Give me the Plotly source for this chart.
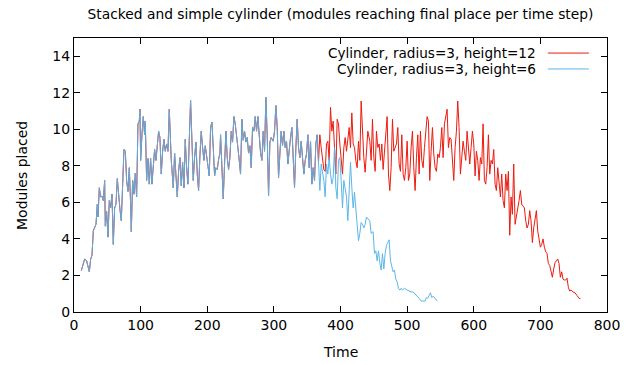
import plotly.graph_objects as go

# Shared part of both runs (identical time steps)
t_common = [11, 14, 16, 19, 21, 23, 25, 27, 29, 31, 33, 35, 36, 38, 40, 42, 44, 46, 47, 49,
            51, 53, 55, 57, 59, 61, 63, 65, 67, 69, 71, 73, 75, 77, 79, 81, 83, 85, 86, 88,
            90, 92, 94, 96, 98, 99, 100, 102, 104, 106, 107, 109, 111, 113, 115, 117, 119,
            121, 123, 125, 127, 129, 131, 133, 135, 137, 139, 141, 143,
            146, 149, 151, 153, 155, 157, 159, 161, 163, 165, 167, 169, 171, 173, 175, 177,
            179, 181, 183, 185, 187, 189, 191, 193, 195, 197, 199, 201, 203, 205, 207, 209,
            211, 213, 215, 217, 219, 220, 222, 224, 226, 228, 230, 232, 234, 236, 238, 240,
            242, 244, 246, 248, 250, 252, 254, 256, 258, 260, 262, 264, 266, 268, 270, 272,
            274, 276, 278, 280, 282, 284, 286, 288, 290, 292,
            294, 296, 299, 301, 303, 305, 307, 309, 311, 313, 315, 317, 319, 321, 323, 325,
            327, 329, 331, 333, 335, 337, 339, 341, 343, 345, 347, 349, 351, 353, 355, 357,
            359, 361, 363, 365, 367]
v_common = [2.27, 2.7, 2.9, 2.8, 2.45, 2.2, 2.9, 3.1, 4.45, 4.6, 4.8, 5.9, 5.2, 6.8, 6.3, 6.35,
            6.1, 7.2, 4.7, 5.5, 4.1, 6.1, 5.7, 6.45, 3.7, 5.7, 5.9, 7.3, 6.3, 5.6, 5.0, 6.8,
            8.9, 8.8, 7.2, 6.6, 7.9, 5.9, 4.4, 7.2, 6.45, 7.6, 6.3, 10.3, 10.45, 11.1, 8.3,
            9.7, 10.7, 9.7, 10.45, 7.2, 8.4, 7.0, 8.4, 7.0, 8.1, 8.9, 8.3, 9.3, 9.9, 9.55,
            7.55, 8.8, 9.45, 8.8, 9.2, 8.8, 11.1,
            8.3, 6.8, 8.7, 7.2, 6.3, 7.7, 8.45, 6.9, 8.2, 6.8, 9.45, 7.9, 7.0, 9.4, 11.6, 9.4,
            7.2, 8.45, 9.3, 7.55, 6.65, 8.55, 9.9, 9.0, 8.3, 9.1, 8.45, 8.1, 7.45, 10.1, 10.4,
            9.0, 7.45, 7.9, 7.8, 8.35, 8.7, 9.7, 7.35, 6.2, 8.1, 9.9, 8.45, 7.8, 8.45, 9.9,
            9.3, 10.7, 10.3, 9.4, 9.0, 8.3, 7.55, 10.55, 9.4, 9.9, 9.3, 9.55, 8.7, 9.1, 7.9,
            10.1, 9.9, 10.7, 9.9, 10.7, 9.65, 8.7, 8.3, 9.9, 8.8, 11.75, 9.65, 6.35,
            9.3, 9.55, 9.35, 9.9, 11.3, 10.1, 7.35, 9.0, 9.9, 9.1, 9.9, 9.0, 9.35, 8.1, 9.0,
            9.55, 10.1, 7.9, 6.8, 9.0, 10.55, 9.0, 8.45, 9.35, 8.3, 7.55, 8.3, 8.65, 9.7, 7.9,
            9.35, 7.0, 7.9, 7.2, 9.2, 9.7, 8.2]

# Simple cylinder (height 6) after the shared part
t_blue_tail = [369, 371, 373, 375, 377, 379, 381, 383, 385, 387, 389, 391, 393, 395, 397, 399,
               401, 403, 405, 407, 409, 411, 413, 415, 417, 419, 421, 423, 425, 427, 429, 431,
               433, 435, 437, 439, 441, 444, 446, 449, 451, 453, 455, 457, 459, 461, 463, 465,
               467, 469, 471, 473, 475, 477, 479, 481, 483, 485, 487, 489, 491, 493, 496, 500,
               503, 506, 509, 512, 515, 518, 521, 524, 527, 529, 531, 533, 535, 537, 539, 542, 545]
v_blue_tail = [6.65, 8.1, 7.7, 7.2, 6.3, 8.1, 7.55, 8.45, 7.55, 7.0, 7.35, 9.0, 6.8, 6.2, 8.3,
               8.45, 7.2, 5.7, 7.2, 6.8, 6.3, 5.0, 6.65, 8.2, 6.8, 5.7, 6.55, 5.7, 5.0, 3.9, 4.3,
               4.9, 4.8, 4.6, 4.8, 5.2, 5.1, 5.0, 4.3, 4.4, 3.2, 3.35, 2.8, 3.35, 2.7, 2.3, 3.2,
               2.35, 3.2, 3.65, 3.8, 3.95, 2.8, 2.45, 2.2, 2.3, 1.8, 1.65, 1.3, 1.2, 1.3, 1.2, 1.3,
               1.2, 1.15, 1.1, 1.1, 1.0, 0.85, 0.75, 0.6, 0.6, 0.6, 0.8, 0.75, 0.9, 1.05, 0.8,
               0.85, 0.75, 0.6]

# Stacked cylinder (height 12) after the shared part
t_red_tail = [369, 371, 373, 375, 377, 379, 381, 383, 385, 387, 389, 391, 393, 395, 397, 399,
              401, 403, 405, 407, 409, 411, 413, 415, 417, 419, 421, 423, 425, 427, 429, 431,
              433, 435, 437, 439, 441, 444, 446, 448, 450, 452, 454, 456, 458, 460, 462, 464,
              466, 468, 470, 472, 474, 476, 478, 480, 482, 484, 486, 488, 490, 492, 494, 496,
              498, 500, 502, 504, 506, 508, 510, 512, 514, 516, 518, 520, 522, 524, 526, 528,
              530, 532, 534, 536, 538, 540, 542, 544, 546, 548, 550, 552, 554, 556, 558, 560,
              562, 564, 566, 568, 570, 572, 574, 576, 578, 580, 582, 584, 586, 588, 590, 592,
              594, 596, 598, 600, 602, 604, 606, 608, 610, 612, 614, 616, 618, 620, 622, 624,
              626, 628, 630, 632, 634, 636, 638, 640, 642, 644, 646, 648, 650, 652, 654, 656,
              658, 660, 662, 664, 666, 668, 670, 672, 674, 676, 678, 680, 682, 684, 686, 688,
              690, 692, 694, 696, 698, 700, 702, 704, 706, 708, 710, 712, 714, 716, 718, 720,
              722, 724, 726, 728, 730, 732, 734, 736, 738, 740, 742, 744, 746, 749, 752, 755,
              758, 760]
v_red_tail = [9.7, 9.0, 8.3, 7.8, 7.7, 9.2, 9.35, 8.3, 11.2, 9.9, 10.45, 8.45, 7.55, 10.55,
              10.3, 9.2, 8.1, 7.55, 9.0, 9.55, 8.8, 9.35, 10.1, 9.0, 10.9, 9.2, 9.0, 8.3, 7.9,
              9.35, 8.3, 11.55, 9.9, 8.45, 7.65, 9.0, 9.9, 9.35, 8.3, 10.55, 8.45, 7.7, 9.9,
              9.0, 9.2, 8.3, 9.2, 7.8, 8.65, 9.9, 10.7, 7.55, 6.65, 7.9, 10.55, 8.8, 9.0, 9.2,
              10.1, 8.1, 7.7, 9.7, 7.55, 7.2, 7.9, 9.35, 7.2, 7.55, 9.0, 9.9, 7.9, 6.65, 8.45,
              9.7, 7.55, 9.9, 8.3, 7.9, 9.0, 10.1, 10.7, 10.45, 7.2, 8.8, 10.1, 8.65, 7.9, 7.7,
              8.65, 8.45, 9.0, 10.1, 8.45, 10.3, 10.7, 11.1, 9.0, 9.55, 9.45, 8.45, 7.2, 9.0,
              9.9, 11.55, 10.1, 7.55, 8.45, 9.35, 8.8, 8.3, 9.9, 9.0,
              8.1, 9.0, 9.9, 9.2, 7.45, 8.8, 8.3, 7.2, 8.45, 8.1, 10.3, 7.2, 7.0, 7.9, 9.7, 7.55,
              8.3, 8.1, 8.9, 7.0, 6.65, 7.9, 7.2, 6.3, 7.55, 6.1, 5.7, 7.55, 6.65, 7.7, 4.2, 6.3,
              5.35, 8.1, 4.8, 5.2, 5.7, 6.1, 6.65, 5.9, 5.8, 5.7, 5.0, 4.6, 4.8, 5.55, 5.0, 3.8,
              4.6, 5.1, 5.55, 4.45, 3.9, 3.55, 3.7, 4.0, 3.55, 3.3, 3.2, 2.65, 2.55, 2.25, 1.9,
              2.35, 2.7, 2.8, 2.9, 2.65, 1.9, 2.2, 1.8, 1.75, 1.75, 1.85, 1.35, 1.15, 1.2, 1.1,
              1.05, 0.9, 0.75, 0.73]

series_names = ["Cylinder, radius=3, height=12", "Cylinder, radius=3, height=6"]
x_ticks = [0, 100, 200, 300, 400, 500, 600, 700, 800]
y_ticks = [0, 2, 4, 6, 8, 10, 12, 14]

RED = "#ee1a0e"
BLUE = "#56b4e9"
FONT = "DejaVu Sans"
FS = 14
TXT = dict(family=FONT, size=FS, color="black")
KEY_TXT = dict(family=FONT, size=13.6, color="black")

t_red = t_common + t_red_tail
v_red = v_common + v_red_tail
t_blue = t_common + t_blue_tail
v_blue = v_common + v_blue_tail

fig = go.Figure()
fig.add_trace(go.Scatter(x=t_red, y=v_red, mode="lines", name=series_names[0],
                         line=dict(color=RED, width=1)))
fig.add_trace(go.Scatter(x=t_blue, y=v_blue, mode="lines", name=series_names[1],
                         line=dict(color=BLUE, width=1), opacity=0.96))

axis_common = dict(showline=True, linecolor="black", linewidth=1, mirror="ticks",
                   ticks="inside", ticklen=6, tickcolor="black", showgrid=False,
                   zeroline=False, automargin=False, tickfont=TXT)

fig.update_xaxes(range=[0, 800], tickvals=x_ticks, ticktext=[str(v) for v in x_ticks],
                 **axis_common)
fig.update_yaxes(range=[0, 15], tickvals=y_ticks, ticktext=[str(v) for v in y_ticks],
                 **axis_common)

annotations = [
    dict(x=-0.0976, y=0.5, xref="paper", yref="paper", text="Modules placed", textangle=-90,
         showarrow=False, xanchor="center", yanchor="middle", font=TXT),
    dict(x=0.5, y=-0.147, xref="paper", yref="paper", text="Time",
         showarrow=False, xanchor="center", yanchor="middle", font=TXT),
]
shapes = []
# gnuplot-style key: text right-aligned, then line sample
key_rows = [(0.945, RED), (0.887, BLUE)]
for name, (ky, col) in zip(series_names, key_rows):
    annotations.append(dict(x=0.8705, y=ky, xref="paper", yref="paper", text=name,
                            showarrow=False, xanchor="right", yanchor="middle", font=KEY_TXT))
    shapes.append(dict(type="line", xref="paper", yref="paper", x0=0.889, x1=0.966,
                       y0=ky, y1=ky, line=dict(color=col, width=1)))

fig.update_layout(
    width=634, height=365,
    margin=dict(l=74, r=27, t=38, b=53, autoexpand=False),
    paper_bgcolor="white", plot_bgcolor="white",
    showlegend=False,
    title=dict(text="Stacked and simple cylinder (modules reaching final place per time step)",
               xref="paper", x=0.5, xanchor="center", y=0.962, yanchor="middle",
               font=dict(family=FONT, size=13.8, color="black")),
    annotations=annotations, shapes=shapes,
)

fig.write_html("out.html")
